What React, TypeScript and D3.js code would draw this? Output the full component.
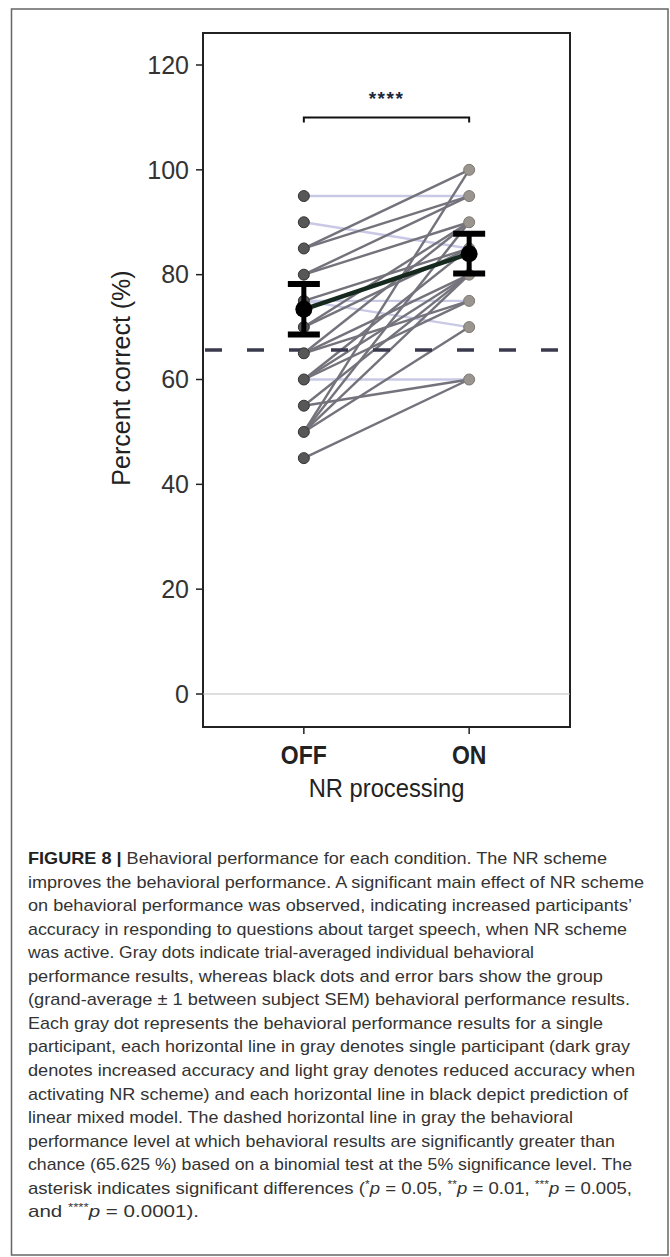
import * as d3 from 'd3';

// conditions on the x axis
const CONDITIONS = ['OFF', 'ON'];
const Y_TICKS = [0, 20, 40, 60, 80, 100, 120];

// one entry per participant (percent correct)
const OFF_SCORES = [95, 90, 85, 85, 80, 80, 75, 75, 75, 70, 70, 65, 65, 65, 60, 60, 60, 60, 55, 55, 50, 50, 50, 50, 45];
const ON_SCORES  = [95, 85, 100, 95, 90, 95, 75, 70, 85, 90, 85, 80, 75, 90, 60, 75, 80, 85, 60, 80, 70, 80, 90, 100, 60];

// group average +/- 1 SEM
const GROUP_MEAN = [73.4, 84.0];
const GROUP_SEM  = [4.8, 3.8];

const CHANCE_LEVEL = 65.625;
const SIG_LEVEL = 110;
const SIG_LABEL = '****';

type Seg = { t: string; b?: boolean; i?: boolean; sup?: boolean };
const CAPTION: Seg[][] = [
  [{ t: 'FIGURE 8 | ', b: true }, { t: 'Behavioral performance for each condition. The NR scheme' }],
  [{ t: 'improves the behavioral performance. A significant main effect of NR scheme' }],
  [{ t: 'on behavioral performance was observed, indicating increased participants\u2019' }],
  [{ t: 'accuracy in responding to questions about target speech, when NR scheme' }],
  [{ t: 'was active. Gray dots indicate trial-averaged individual behavioral' }],
  [{ t: 'performance results, whereas black dots and error bars show the group' }],
  [{ t: '(grand-average \u00b1 1 between subject SEM) behavioral performance results.' }],
  [{ t: 'Each gray dot represents the behavioral performance results for a single' }],
  [{ t: 'participant, each horizontal line in gray denotes single participant (dark gray' }],
  [{ t: 'denotes increased accuracy and light gray denotes reduced accuracy when' }],
  [{ t: 'activating NR scheme) and each horizontal line in black depict prediction of' }],
  [{ t: 'linear mixed model. The dashed horizontal line in gray the behavioral' }],
  [{ t: 'performance level at which behavioral results are significantly greater than' }],
  [{ t: 'chance (65.625 %) based on a binomial test at the 5% significance level. The' }],
  [
    { t: 'asterisk indicates significant differences (' }, { t: '*', sup: true }, { t: 'p', i: true },
    { t: '  =  0.05, ' }, { t: '**', sup: true }, { t: 'p', i: true }, { t: ' = 0.01, ' },
    { t: '***', sup: true }, { t: 'p', i: true }, { t: ' = 0.005,' },
  ],
  [{ t: 'and ' }, { t: '****', sup: true }, { t: 'p', i: true }, { t: ' = 0.0001).' }],
];
// rendered width of each caption line
const CAPTION_W = [579, 616, 604, 599, 506, 575, 602, 575, 602, 607, 600, 545, 587, 604, 604, 171];

const FONT = '"Liberation Sans", Arial, sans-serif';

export default function App() {
  const W = 670, H = 1257;
  const left = 203, right = 570, top = 33, bottom = 727;

  const y = d3.scaleLinear().domain([0, 120]).range([694, 65]);
  const x = d3.scalePoint<string>().domain(CONDITIONS).range([left, right]).padding(0.61);
  const xOff = x('OFF')!, xOn = x('ON')!;

  const pairs = OFF_SCORES.map((v, i) => ({ off: v, on: ON_SCORES[i] }));
  const meanLine = d3.line<number>().x((_, i) => x(CONDITIONS[i])!).y(d => y(d));

  return (
    <svg width={W} height={H} style={{ position: 'absolute', left: 0, top: 0, background: '#fff' }}
      fontFamily={FONT}>
      <rect x={11.5} y={9} width={656.5} height={1246} fill="none" stroke="#666" strokeWidth={1.5} />

      {/* plot frame */}
      <rect x={left} y={top} width={right - left} height={bottom - top} fill="none" stroke="#222" strokeWidth={2} />
      <line x1={left} x2={right} y1={y(0)} y2={y(0)} stroke="#bdbdbd" strokeWidth={1.2} />

      {/* y axis */}
      {Y_TICKS.map(t => (
        <g key={t}>
          <line x1={left - 7} x2={left} y1={y(t)} y2={y(t)} stroke="#222" strokeWidth={1.5} />
          <text x={left - 14} y={y(t)} dy="0.35em" textAnchor="end" fontSize={25} fill="#333">{t}</text>
        </g>
      ))}
      <text transform={`translate(130,${378}) rotate(-90)`} textAnchor="middle" fontSize={25} fill="#222">
        Percent correct (%)
      </text>

      {/* x axis */}
      {CONDITIONS.map(c => (
        <g key={c}>
          <line x1={x(c)!} x2={x(c)!} y1={bottom} y2={bottom + 7} stroke="#222" strokeWidth={1.5} />
          <text x={x(c)!} y={764} textAnchor="middle" fontSize={25} fontWeight={700} fill="#222"
            transform={`translate(${x(c)!},0) scale(0.92,1) translate(${-x(c)!},0)`}>{c}</text>
        </g>
      ))}
      <text x={(xOff + xOn) / 2} y={797} textAnchor="middle" fontSize={25} fill="#222"
        transform={`translate(${(xOff + xOn) / 2},0) scale(0.95,1) translate(${-(xOff + xOn) / 2},0)`}>
        NR processing
      </text>

      {/* participant lines */}
      {pairs.map((p, i) => (
        <line key={i} x1={xOff} x2={xOn} y1={y(p.off)} y2={y(p.on)}
          stroke={p.on > p.off ? '#74737c' : '#c9c9e6'} strokeWidth={2.4} />
      ))}

      {/* chance level */}
      <line x1={left + 2} x2={right - 2} y1={y(CHANCE_LEVEL)} y2={y(CHANCE_LEVEL)}
        stroke="#3a3a4e" strokeWidth={3.5} strokeDasharray="17 25" />

      {/* participant dots */}
      {Array.from(new Set(OFF_SCORES)).map(v => (
        <circle key={'off' + v} cx={xOff} cy={y(v)} r={5.5} fill="#575757" stroke="#333" strokeWidth={1} />
      ))}
      {Array.from(new Set(ON_SCORES)).map(v => (
        <circle key={'on' + v} cx={xOn} cy={y(v)} r={5.5} fill="#9a958f" stroke="#7d7872" strokeWidth={1} />
      ))}

      {/* group mean */}
      <path d={meanLine(GROUP_MEAN)!} fill="none" stroke="#15291f" strokeWidth={4.5} />
      {GROUP_MEAN.map((m, i) => {
        const cx = x(CONDITIONS[i])!;
        const lo = y(m - GROUP_SEM[i]), hi = y(m + GROUP_SEM[i]);
        return (
          <g key={i}>
            <line x1={cx} x2={cx} y1={lo} y2={hi} stroke="#000" strokeWidth={5} />
            <line x1={cx - 16} x2={cx + 16} y1={lo} y2={lo} stroke="#000" strokeWidth={6} />
            <line x1={cx - 16} x2={cx + 16} y1={hi} y2={hi} stroke="#000" strokeWidth={6} />
            <circle cx={cx} cy={y(m)} r={8.5} fill="#000" />
          </g>
        );
      })}

      {/* significance bracket */}
      <path d={`M${xOff},${y(SIG_LEVEL) + 5}V${y(SIG_LEVEL)}H${xOn}V${y(SIG_LEVEL) + 5}`}
        fill="none" stroke="#111" strokeWidth={2} />
      <text x={(xOff + xOn) / 2} y={y(SIG_LEVEL) - 12} textAnchor="middle" fontSize={19} fontWeight={700}
        fill="#1a2a3a" letterSpacing={1.5}>{SIG_LABEL}</text>

      {/* caption */}
      {CAPTION.map((line, li) => (
        <text key={li} x={28} y={864 + li * 23.56} fontSize={17} fill="#333"
          textLength={CAPTION_W[li]} lengthAdjust="spacingAndGlyphs">
          {line.map((s, si) => (
            <tspan key={si} fontWeight={s.b ? 700 : 400} fontStyle={s.i ? 'italic' : 'normal'}
              fill={s.b ? '#222' : '#333'}
              fontSize={s.sup ? 11 : 17} dy={s.sup ? -6 : 0}
              {...(si > 0 && line[si - 1].sup ? { dy: 6 } : {})}>{s.t}</tspan>
          ))}
        </text>
      ))}
    </svg>
  );
}
